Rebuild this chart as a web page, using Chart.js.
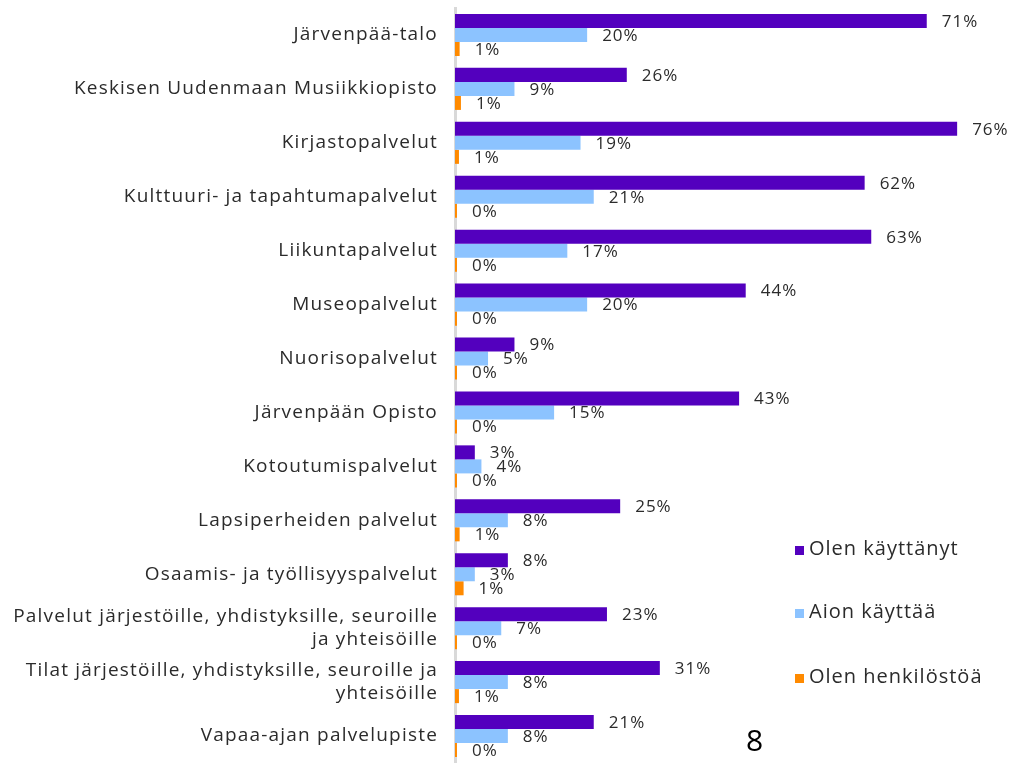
<!DOCTYPE html>
<html>
<head>
<meta charset="utf-8">
<script src="https://cdn.jsdelivr.net/npm/chart.js@4.4.1/dist/chart.umd.min.js"></script>
<style>
  body { margin: 0; background: #fff; overflow: hidden; }
  #wrap { position: relative; width: 1010px; height: 763px; }
</style>
</head>
<body>
<div id="wrap"><canvas id="myChart"></canvas></div>
<script>
const categories = [
    "Järvenpää-talo",
    "Keskisen Uudenmaan Musiikkiopisto",
    "Kirjastopalvelut",
    "Kulttuuri- ja tapahtumapalvelut",
    "Liikuntapalvelut",
    "Museopalvelut",
    "Nuorisopalvelut",
    "Järvenpään Opisto",
    "Kotoutumispalvelut",
    "Lapsiperheiden palvelut",
    "Osaamis- ja työllisyyspalvelut",
    ["Palvelut järjestöille, yhdistyksille, seuroille", "ja yhteisöille"],
    ["Tilat järjestöille, yhdistyksille, seuroille ja", "yhteisöille"],
    "Vapaa-ajan palvelupiste",
];
const seriesNames = ["Olen käyttänyt", "Aion käyttää", "Olen henkilöstöä"];
const used = [71.4, 26, 76, 62, 63, 44, 9, 43, 3, 25, 8, 23, 31, 21];
const planning = [20, 9, 19, 21, 17, 20, 5, 15, 4, 8, 3, 7, 8, 8];
const staff = [0.7, 0.9, 0.6, 0.3, 0.3, 0.3, 0.3, 0.3, 0.3, 0.7, 1.3, 0.3, 0.6, 0.3];

const colors = ["#5300be", "#8cc3ff", "#ff8a00"];
const textColor = "#2b2b2b";
const fontFamily = "'Open Sans', 'Noto Sans', sans-serif";
const spacing = "1.2px";

const data = {
    labels: categories,
    datasets: [used, planning, staff].map((vals, i) => ({
        label: seriesNames[i],
        data: vals,
        backgroundColor: colors[i],
        borderWidth: 0,
        barPercentage: 1,
        categoryPercentage: 0.78,
    })),
};

// wider letter spacing for all canvas text
const letterSpacing = {
    id: "letterSpacing",
    beforeLayout(chart) { chart.ctx.letterSpacing = spacing; },
    beforeDraw(chart) { chart.ctx.letterSpacing = spacing; },
};

// value labels next to bar ends
const valueLabels = {
    id: "valueLabels",
    afterDatasetsDraw(chart) {
        const { ctx } = chart;
        ctx.save();
        ctx.font = "17px " + fontFamily;
        ctx.letterSpacing = "1px";
        ctx.fillStyle = textColor;
        ctx.textAlign = "left";
        ctx.textBaseline = "middle";
        chart.data.datasets.forEach((ds, i) => {
            chart.getDatasetMeta(i).data.forEach((bar, j) => {
                ctx.fillText(Math.round(ds.data[j]) + "%", bar.x + 15, bar.y + 1);
            });
        });
        ctx.restore();
    },
};

// legend on the right, plus the page number
const sideLegend = {
    id: "sideLegend",
    afterDraw(chart) {
        const { ctx } = chart;
        const ys = [549, 612, 677];
        ctx.save();
        ctx.textBaseline = "middle";
        ctx.textAlign = "left";
        ctx.font = "20px " + fontFamily;
        ctx.letterSpacing = "1px";
        seriesNames.forEach((name, i) => {
            ctx.fillStyle = colors[i];
            ctx.fillRect(795, ys[i] - 3, 9, 9);
            ctx.fillStyle = textColor;
            ctx.fillText(name, 809, ys[i]);
        });
        ctx.font = "30px " + fontFamily;
        ctx.letterSpacing = "0px";
        ctx.fillStyle = "#000";
        ctx.fillText("8", 746, 742);
        ctx.restore();
    },
};

const config = {
    type: "bar",
    data,
    options: {
        indexAxis: "y",
        responsive: true,
        maintainAspectRatio: false,
        animation: false,
        layout: { padding: { top: 8, bottom: 0, left: 0, right: 0 } },
        plugins: {
            legend: { display: false },
            tooltip: { enabled: false },
        },
        scales: {
            x: {
                display: false,
                min: 0,
                max: 84,
            },
            y: {
                afterFit(scale) {
                    scale.width = 455;
                    scale.paddingTop = 0;
                    scale.paddingBottom = 0;
                },
                grid: { display: false, drawTicks: false },
                border: { display: true, color: "#d9d9d9", width: 3 },
                ticks: {
                    color: textColor,
                    font: { size: 19, family: fontFamily, lineHeight: 1.25 },
                    padding: 17,
                    autoSkip: false,
                },
            },
        },
    },
    plugins: [letterSpacing, valueLabels, sideLegend],
};

const myChart = new Chart(document.getElementById("myChart"), config);
</script>
</body>
</html>
